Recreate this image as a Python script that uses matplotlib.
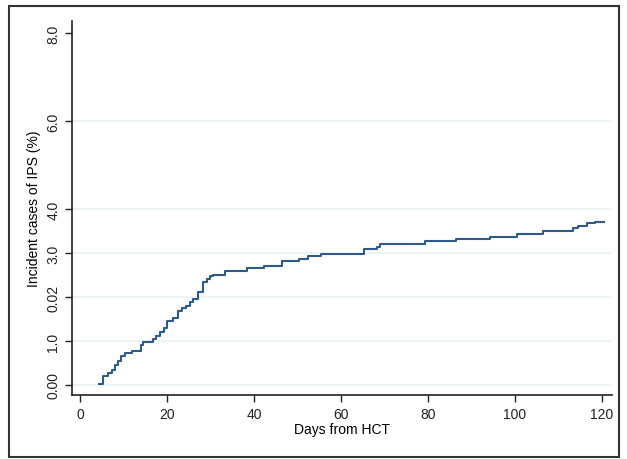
import matplotlib.pyplot as plt
from matplotlib.patches import Rectangle

plt.rcParams['font.family'] = ['Liberation Sans', 'DejaVu Sans']

# cumulative incidence curve
days = [4.4, 5.4, 6.5, 7.3, 8.0, 8.8, 9.5, 10.3, 12.0, 14.0, 14.5, 16.7, 17.5, 18.5,
        19.3, 20.0, 21.4, 22.6, 23.4, 24.4, 25.3, 26.0, 27.2, 28.2, 29.1, 29.9, 30.6,
        33.3, 38.3, 42.4, 46.4, 50.3, 52.5, 55.4, 65.3, 68.2, 69.1, 79.4, 86.4, 94.4,
        100.4, 106.4, 113.4, 114.6, 116.5, 118.4, 120.5]
incid = [0.03, 0.2, 0.27, 0.35, 0.45, 0.55, 0.65, 0.73, 0.78, 0.9, 0.97, 1.05, 1.12, 1.2,
         1.3, 1.45, 1.52, 1.69, 1.74, 1.8, 1.89, 1.95, 2.12, 2.35, 2.41, 2.47, 2.5,
         2.58, 2.65, 2.71, 2.81, 2.86, 2.92, 2.98, 3.09, 3.13, 3.2, 3.27, 3.32, 3.37,
         3.43, 3.49, 3.56, 3.61, 3.67, 3.71, 3.71]

xticks = [0, 20, 40, 60, 80, 100, 120]
yticks = [0, 1, 2, 3, 4, 6, 8]
ylabels = ['0.00', '1.0', '0.02', '3.0', '4.0', '6.0', '8.0']

fig = plt.figure(figsize=(6.27, 4.6), dpi=100)
ax = fig.add_axes([0.1148, 0.139, 0.861, 0.813])

for y in yticks[:-1]:
    ax.axhline(y, color='#eaf2f3', lw=1.2, zorder=0)

ax.step(days, incid, where='post', color='#2f5a87', lw=1.5)

ax.set_xlim(-1.84, 122.3)
ax.set_ylim(-0.23, 8.27)
ax.set_xticks(xticks)
ax.set_yticks(yticks)
ax.set_yticklabels(ylabels, rotation=90, va='center')
ax.tick_params(labelsize=10, length=5, width=1, colors='#222222')
ax.spines['top'].set_visible(False)
ax.spines['right'].set_visible(False)
for s in ['left', 'bottom']:
    ax.spines[s].set_linewidth(1.2)
    ax.spines[s].set_color('#222222')

ax.set_xlabel('Days from HCT', fontsize=10, labelpad=1)
ax.set_ylabel('Incident cases of IPS (%)', fontsize=10, labelpad=4)

fig.patches.append(Rectangle((9 / 627, 1 - 458 / 460), 610 / 627, 451 / 460,
                             transform=fig.transFigure, fill=False,
                             edgecolor='#333333', lw=1.5))

fig.savefig('out.png', dpi=100)
